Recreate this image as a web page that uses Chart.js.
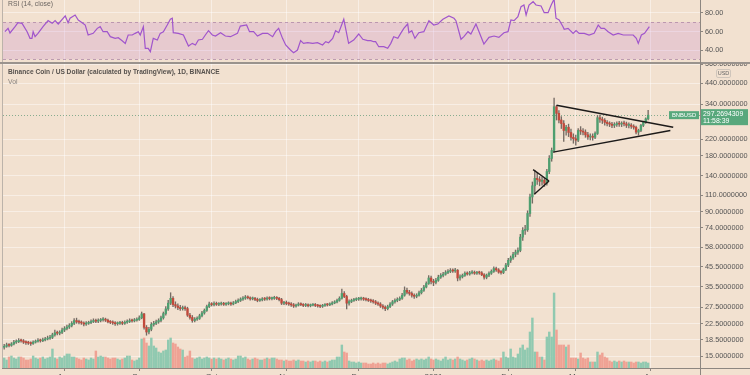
<!DOCTYPE html>
<html>
<head>
<meta charset="utf-8">
<script src="https://cdn.jsdelivr.net/npm/chart.js@4.4.1/dist/chart.umd.min.js"></script>
<style>
  html, body { margin: 0; padding: 0; }
  body {
    width: 750px; height: 375px; overflow: hidden; position: relative;
    background: #f2e1d0; font-family: "Liberation Sans", "DejaVu Sans", sans-serif;
  }
  canvas { position: absolute; left: 0; }
  #rsiChart { top: 0; }
  #priceChart { top: 64px; }
  .line { position: absolute; background: #8d8680; }
  .title { position: absolute; left: 8px; white-space: nowrap; line-height: 1; }
  #usd {
    position: absolute; left: 716px; top: 69px; width: 13px; height: 7px;
    border: 1px solid #cfc5bb; border-radius: 2px; font-size: 5.5px; color: #666;
    text-align: center; line-height: 7px;
  }
</style>
</head>
<body>
<canvas id="rsiChart" width="750" height="63"></canvas>
<canvas id="priceChart" width="750" height="320"></canvas>
<div class="line" style="left:2px; top:0; width:1px; height:368px; background:#bcb3aa;"></div>
<div class="line" style="left:0; top:62px; width:750px; height:2px; background:#9a938d;"></div>
<div class="line" style="left:2px; top:368px; width:748px; height:1px;"></div>
<div class="line" style="left:700px; top:0; width:1px; height:375px;"></div>
<div class="title" style="top:1px; font-size:6.8px; color:#6b6561;">RSI (14, close)</div>
<div class="title" style="top:69px; font-size:6.6px; color:#57524e; font-weight:bold;">Binance Coin / US Dollar (calculated by TradingView), 1D, BINANCE</div>
<div class="title" style="top:79px; font-size:6.8px; color:#8a847f;">Vol</div>
<div id="usd">USD</div>
<script>
// daily candles, 2020-07-07 .. 2021-03-31 (day index 0..267)
const opens = [
  16.8, 17.0, 17.3, 17.2, 17.5, 17.9, 18.0, 18.3, 18.2, 17.9,
  17.8, 17.7, 17.6, 17.9, 18.1, 18.3, 18.2, 18.4, 18.6, 18.8,
  19.0, 19.6, 20.1, 20.0, 20.2, 20.8, 21.2, 21.6, 22.0, 22.6,
  23.4, 23.0, 22.9, 22.7, 22.4, 22.6, 22.8, 23.1, 23.4, 23.2,
  23.4, 23.6, 23.7, 23.5, 23.0, 22.9, 22.7, 22.5, 22.6, 22.8,
  22.6, 22.9, 23.1, 23.4, 23.3, 23.5, 23.7, 24.2, 25.4, 21.5,
  20.3, 21.0, 22.3, 22.6, 23.0, 23.4, 24.2, 25.5, 27.0, 29.0,
  30.8, 28.5, 28.0, 27.5, 27.1, 27.3, 27.1, 25.0, 24.3, 23.4,
  23.8, 24.0, 24.8, 25.7, 26.5, 27.8, 28.7, 28.5, 28.9, 28.6,
  28.7, 28.9, 28.6, 28.8, 29.0, 28.7, 29.1, 29.6, 30.0, 30.5,
  30.9, 31.2, 31.0, 30.6, 30.8, 30.4, 30.0, 30.2, 30.6, 30.5,
  30.9, 30.7, 30.8, 31.1, 30.8, 30.3, 29.0, 29.2, 28.9, 28.7,
  28.4, 28.0, 28.3, 28.7, 28.5, 28.2, 28.4, 28.1, 28.3, 28.5,
  28.2, 28.0, 27.9, 28.2, 28.5, 28.4, 28.7, 29.1, 29.4, 30.0,
  30.8, 32.7, 31.5, 29.0, 29.6, 30.0, 30.3, 30.5, 30.6, 30.8,
  30.5, 30.3, 30.0, 29.8, 29.5, 29.0, 28.7, 28.0, 27.6, 27.1,
  27.8, 28.7, 29.5, 30.0, 30.4, 30.8, 32.0, 34.0, 33.2, 32.7,
  32.0, 31.6, 32.0, 33.0, 34.0, 35.4, 37.0, 39.6, 38.0, 37.5,
  38.5, 40.0, 40.9, 41.5, 42.4, 43.0, 43.5, 43.2, 43.6, 39.6,
  40.2, 40.9, 42.0, 41.6, 42.2, 42.5, 42.0, 42.3, 42.2, 41.2,
  40.0, 41.0, 42.0, 43.0, 44.5, 43.8, 42.6, 42.4, 44.0, 46.5,
  49.3, 50.8, 53.1, 54.5, 55.7, 65.7, 71.4, 72.0, 88.0, 108,
  124, 136, 134, 131, 133, 128, 148, 174, 192, 330,
  304, 280, 268, 246, 256, 240, 226, 222, 218, 246,
  244, 241, 233, 227, 229, 226, 237, 288, 283, 279,
  272, 268, 266, 262, 265, 268, 266, 268, 267, 262,
  263, 259, 256, 241, 246, 262, 272, 284
];
const highs = [
  17.4, 17.7, 17.6, 17.8, 18.3, 18.4, 18.7, 18.6, 18.5, 18.2,
  18.1, 18.0, 18.2, 18.4, 18.7, 18.6, 18.8, 19.0, 19.3, 19.5,
  20.0, 20.8, 20.5, 20.6, 21.3, 21.7, 22.1, 22.5, 23.1, 24.0,
  24.1, 23.5, 23.3, 23.0, 23.1, 23.2, 23.6, 23.9, 23.8, 23.9,
  24.0, 24.3, 24.1, 23.8, 23.4, 23.3, 23.1, 23.0, 23.2, 23.2,
  23.3, 23.6, 23.9, 23.8, 24.0, 24.2, 24.8, 26.0, 25.6, 22.0,
  21.5, 22.8, 23.2, 23.5, 23.9, 24.7, 26.0, 27.8, 30.0, 33.0,
  31.5, 29.5, 28.8, 28.2, 28.0, 28.0, 27.6, 25.6, 24.9, 24.3,
  24.5, 25.3, 26.2, 27.0, 28.3, 29.4, 29.2, 29.5, 29.4, 29.2,
  29.4, 29.3, 29.2, 29.5, 29.4, 29.6, 30.1, 30.6, 31.0, 31.5,
  31.9, 31.8, 31.4, 31.3, 31.2, 30.9, 30.7, 31.1, 31.1, 31.4,
  31.4, 31.3, 31.6, 31.5, 31.2, 30.8, 29.7, 29.8, 29.4, 29.2,
  28.9, 28.7, 29.2, 29.1, 28.9, 28.9, 28.8, 28.7, 28.9, 28.9,
  28.6, 28.4, 28.6, 28.9, 28.9, 29.1, 29.6, 29.9, 30.5, 31.4,
  34.5, 33.5, 32.0, 30.2, 30.5, 30.8, 31.0, 31.2, 31.3, 31.2,
  31.0, 30.8, 30.5, 30.3, 30.0, 29.5, 29.2, 28.5, 28.1, 28.3,
  29.2, 30.0, 30.6, 31.0, 31.4, 32.8, 35.5, 35.0, 34.0, 33.4,
  32.6, 32.6, 33.7, 34.8, 36.2, 37.8, 40.8, 40.5, 39.0, 39.4,
  41.0, 41.8, 42.5, 43.4, 44.0, 44.5, 44.3, 44.6, 44.0, 41.2,
  41.6, 42.8, 42.7, 43.0, 43.4, 43.2, 43.0, 43.1, 42.9, 41.8,
  41.6, 42.7, 43.8, 45.5, 45.4, 44.5, 43.4, 44.8, 47.5, 50.5,
  52.0, 54.5, 56.0, 57.5, 68.0, 74.0, 76.0, 91.0, 112, 130,
  150, 145, 139, 138, 136, 152, 180, 198, 367, 335,
  315, 292, 278, 262, 266, 250, 236, 232, 252, 258,
  252, 248, 240, 236, 236, 242, 296, 298, 290, 285,
  278, 274, 272, 271, 274, 275, 274, 276, 273, 270,
  268, 264, 260, 250, 265, 276, 288, 316
];
const lows = [
  16.4, 16.8, 16.9, 17.0, 17.3, 17.6, 17.8, 17.9, 17.6, 17.4,
  17.4, 17.2, 17.4, 17.7, 17.9, 17.9, 18.0, 18.2, 18.4, 18.5,
  18.7, 19.3, 19.6, 19.6, 19.9, 20.4, 20.8, 21.2, 21.6, 22.2,
  22.6, 22.4, 22.3, 21.9, 22.0, 22.3, 22.5, 22.8, 22.8, 22.8,
  23.0, 23.2, 23.1, 22.7, 22.5, 22.3, 22.0, 22.1, 22.3, 22.2,
  22.3, 22.6, 22.8, 22.9, 23.0, 23.2, 23.4, 23.9, 21.0, 19.5,
  19.8, 20.6, 21.8, 22.2, 22.6, 23.0, 23.8, 25.0, 26.5, 28.5,
  27.8, 27.3, 26.8, 26.5, 26.6, 26.5, 24.6, 23.8, 22.9, 23.0,
  23.4, 23.7, 24.5, 25.3, 26.2, 27.4, 28.0, 28.0, 28.2, 28.1,
  28.3, 28.2, 28.2, 28.4, 28.2, 28.4, 28.8, 29.2, 29.6, 30.0,
  30.4, 30.6, 30.1, 30.2, 29.9, 29.5, 29.6, 29.8, 30.0, 30.1,
  30.2, 30.2, 30.4, 30.3, 29.8, 28.5, 28.5, 28.4, 28.2, 27.9,
  27.5, 27.6, 28.0, 28.1, 27.8, 27.8, 27.7, 27.7, 28.0, 27.8,
  27.6, 27.4, 27.5, 27.9, 28.0, 28.1, 28.4, 28.8, 29.1, 29.7,
  30.5, 31.0, 27.0, 28.3, 29.2, 29.6, 29.9, 30.0, 30.1, 30.0,
  29.8, 29.6, 29.3, 29.0, 28.5, 28.2, 27.5, 27.0, 26.4, 26.7,
  27.4, 28.2, 29.0, 29.5, 29.9, 30.4, 31.6, 32.5, 32.0, 31.2,
  30.8, 31.0, 31.6, 32.5, 33.5, 35.0, 36.6, 36.8, 36.0, 36.8,
  38.0, 39.4, 40.2, 41.0, 41.8, 42.3, 42.4, 42.5, 38.2, 38.6,
  39.6, 40.4, 41.0, 41.0, 41.6, 41.4, 41.4, 41.5, 40.8, 39.0,
  39.2, 40.3, 41.4, 42.5, 43.0, 42.0, 41.5, 41.8, 43.4, 45.6,
  48.0, 49.8, 51.5, 53.0, 54.8, 63.0, 68.0, 70.5, 85.0, 100,
  112, 126, 124, 125, 123, 125, 144, 168, 188, 280,
  270, 252, 215, 232, 228, 218, 210, 205, 214, 234,
  233, 226, 220, 219, 218, 222, 234, 272, 268, 263,
  260, 258, 255, 255, 259, 259, 258, 260, 255, 254,
  252, 250, 236, 232, 242, 258, 268, 280
];
const closes = [
  17.0, 17.3, 17.2, 17.5, 17.9, 18.0, 18.3, 18.2, 17.9, 17.8,
  17.7, 17.6, 17.9, 18.1, 18.3, 18.2, 18.4, 18.6, 18.8, 19.0,
  19.6, 20.1, 20.0, 20.2, 20.8, 21.2, 21.6, 22.0, 22.6, 23.4,
  23.0, 22.9, 22.7, 22.4, 22.6, 22.8, 23.1, 23.4, 23.2, 23.4,
  23.6, 23.7, 23.5, 23.0, 22.9, 22.7, 22.5, 22.6, 22.8, 22.6,
  22.9, 23.1, 23.4, 23.3, 23.5, 23.7, 24.2, 25.4, 21.5, 20.3,
  21.0, 22.3, 22.6, 23.0, 23.4, 24.2, 25.5, 27.0, 29.0, 30.8,
  28.5, 28.0, 27.5, 27.1, 27.3, 27.1, 25.0, 24.3, 23.4, 23.8,
  24.0, 24.8, 25.7, 26.5, 27.8, 28.7, 28.5, 28.9, 28.6, 28.7,
  28.9, 28.6, 28.8, 29.0, 28.7, 29.1, 29.6, 30.0, 30.5, 30.9,
  31.2, 31.0, 30.6, 30.8, 30.4, 30.0, 30.2, 30.6, 30.5, 30.9,
  30.7, 30.8, 31.1, 30.8, 30.3, 29.0, 29.2, 28.9, 28.7, 28.4,
  28.0, 28.3, 28.7, 28.5, 28.2, 28.4, 28.1, 28.3, 28.5, 28.2,
  28.0, 27.9, 28.2, 28.5, 28.4, 28.7, 29.1, 29.4, 30.0, 30.8,
  32.7, 31.5, 29.0, 29.6, 30.0, 30.3, 30.5, 30.6, 30.8, 30.5,
  30.3, 30.0, 29.8, 29.5, 29.0, 28.7, 28.0, 27.6, 27.1, 27.8,
  28.7, 29.5, 30.0, 30.4, 30.8, 32.0, 34.0, 33.2, 32.7, 32.0,
  31.6, 32.0, 33.0, 34.0, 35.4, 37.0, 39.6, 38.0, 37.5, 38.5,
  40.0, 40.9, 41.5, 42.4, 43.0, 43.5, 43.2, 43.6, 39.6, 40.2,
  40.9, 42.0, 41.6, 42.2, 42.5, 42.0, 42.3, 42.2, 41.2, 40.0,
  41.0, 42.0, 43.0, 44.5, 43.8, 42.6, 42.4, 44.0, 46.5, 49.3,
  50.8, 53.1, 54.5, 55.7, 65.7, 71.4, 72.0, 88.0, 108, 124,
  136, 134, 131, 133, 128, 148, 174, 192, 330, 304,
  280, 268, 246, 256, 240, 226, 222, 218, 246, 244,
  241, 233, 227, 229, 226, 237, 288, 283, 279, 272,
  268, 266, 262, 265, 268, 266, 268, 267, 262, 263,
  259, 256, 241, 246, 262, 272, 284, 297.2694309
];
const volumes = [
  10, 8, 11, 12, 10, 9, 11, 11, 10, 8,
  8, 9, 12, 10, 9, 10, 11, 9, 10, 11,
  19, 10, 9, 11, 10, 12, 14, 14, 11, 11,
  10, 9, 8, 10, 9, 8, 10, 9, 17, 11,
  12, 11, 11, 10, 9, 10, 10, 9, 8, 9,
  10, 12, 12, 8, 7, 8, 10, 29, 30, 25,
  22, 30, 22, 20, 16, 15, 17, 18, 28, 30,
  25, 24, 21, 19, 18, 11, 12, 17, 10, 9,
  10, 11, 9, 10, 11, 10, 9, 10, 9, 10,
  9, 8, 9, 10, 9, 8, 9, 12, 12, 10,
  11, 9, 8, 9, 10, 9, 8, 8, 9, 10,
  9, 10, 10, 9, 8, 8, 7, 8, 7, 7,
  8, 7, 8, 7, 7, 6, 7, 6, 7, 7,
  6, 7, 6, 7, 6, 7, 8, 8, 11, 11,
  23, 16, 15, 7, 6, 6, 5, 6, 5, 5,
  5, 4, 4, 5, 4, 5, 4, 5, 5, 4,
  5, 6, 7, 6, 9, 10, 10, 8, 9, 7,
  8, 9, 8, 9, 8, 9, 11, 9, 8, 9,
  8, 7, 9, 11, 8, 9, 8, 9, 11, 9,
  8, 7, 8, 9, 10, 9, 8, 7, 8, 7,
  8, 7, 8, 9, 8, 7, 10, 16, 11, 10,
  19, 11, 10, 14, 20, 23, 18, 20, 36, 50,
  16, 16, 11, 11, 8, 31, 36, 31, 75, 38,
  23, 23, 23, 21, 23, 10, 10, 10, 9, 15,
  10, 9, 10, 6, 6, 6, 16, 13, 15, 11,
  10, 7, 6, 7, 6, 7, 6, 7, 6, 6,
  6, 5, 6, 6, 5, 6, 6, 5
];

// RSI (14, close): day index and value
const rsiDays = [
  0.3, 1.6, 2.4, 4.5, 5.7, 7.4, 9.5, 10.7, 11.5, 12,
  12.8, 14, 16.1, 18.2, 19.9, 21.1, 22.4, 25.3, 26.5, 27.3,
  29.4, 30.7, 32.3, 33.6, 34.8, 36.9, 38.6, 39.8, 41, 42.7,
  44, 46, 47.3, 48.9, 50.2, 51.4, 53.1, 54.3, 55.6, 56.4,
  57.7, 58.5, 59.7, 60.6, 61.8, 63.5, 64.7, 66, 67.6, 68.9,
  69.7, 70.1, 72.2, 74.3, 76.4, 78, 79.3, 80.5, 82.2, 83.4,
  84.7, 86.3, 87.6, 89.7, 91.7, 93.8, 96.7, 97.9, 100.5, 101.7,
  103.4, 105, 107.1, 109.2, 111.3, 112.5, 113.8, 115.4, 116.7, 118.7,
  120, 121.6, 122.9, 124.1, 125.8, 127.9, 129.9, 132, 133.3, 134.5,
  136.2, 137.4, 138.7, 140.8, 142.8, 144.9, 147, 148.7, 150.7, 152,
  153.2, 154, 155.3, 157.4, 159, 160.3, 161.5, 163.2, 164.4, 165.7,
  167.3, 167.8, 169, 170.3, 171.9, 174, 176.1, 178.1, 179.8, 181.9,
  184.4, 186.5, 187.3, 189.4, 190.6, 192.3, 193.5, 195.6, 197.7, 198.9,
  201, 203.1, 205.1, 207.2, 208.9, 210.1, 211.4, 213, 214.3, 215.5,
  216.4, 217.6, 219.3, 220.5, 222.6, 223.9, 225.5, 226.8, 228, 228.8,
  230.1, 231.7, 232.2, 233.8, 235.9, 237.1, 238.4, 240.5, 242.5, 244.6,
  246.3, 247.5, 248.8, 250.4, 252.5, 254.6, 256.7, 258.7, 260.8, 262.1,
  262.9, 264.2, 265.5, 267.5
];
const rsiValues = [
  59.8, 63.4, 58.4, 65.2, 69.5, 68.8, 59.8, 52.6, 52.6, 59.8,
  54.4, 58, 65.2, 71.7, 68.8, 71.7, 68.1, 76.8, 69.5, 74.3,
  77.8, 72.4, 69.5, 67, 56.2, 58, 63.4, 65.2, 59.8, 59.8,
  54.4, 52.6, 53.3, 50.1, 47.2, 56.2, 56.2, 58, 59.8, 56.2,
  65.2, 41.8, 41.8, 38.2, 52.6, 50.8, 58, 59.8, 67, 73.2,
  74.3, 58.7, 58, 56.2, 44.3, 47.2, 45.4, 50.8, 51.6, 56.2,
  60.9, 56.2, 55.1, 58.7, 55.1, 54.4, 58, 65.9, 67, 59.8,
  59.8, 55.1, 58, 58, 54.4, 59.8, 63.4, 52.6, 45.4, 40,
  37.1, 40, 50.1, 47.2, 47.9, 47.2, 47.9, 45.4, 49, 47.9,
  52.6, 60.9, 58.7, 73.2, 47.2, 50.8, 57.3, 51.6, 50.1, 50.1,
  49, 49, 43.6, 43.6, 41.8, 47.2, 54.4, 52.6, 58, 63.4,
  68.1, 58.7, 60.9, 52.6, 58.7, 59.8, 71.7, 67, 68.1, 73.2,
  76.8, 74.3, 71.7, 51.6, 54.4, 59.8, 57.3, 68.1, 54.4, 46.5,
  53.7, 55.1, 53.7, 58.7, 59.8, 72.4, 71.7, 76, 86.8, 88.6,
  77.8, 88.6, 92.2, 88.6, 87.6, 80.3, 80.3, 88.6, 95, 74.3,
  72.4, 65.2, 62.4, 63.4, 58, 60.9, 58, 58, 56.2, 58,
  67, 63.4, 63.4, 59.8, 56.2, 58, 56.2, 56.2, 56.2, 52.6,
  47.2, 56.2, 58, 65.2
];
const rsiBand = [70, 30];

// axis ticks
const monthTickDays = [25, 56, 86, 117, 147, 178, 209, 237, 268];
const monthTickLabels = ["Aug", "Sep", "Oct", "Nov", "Dec", "2021", "Feb", "Mar", "Apr"];
const priceTicks = [15, 18.5, 22.5, 27.5, 35.5, 45.5, 58, 74, 90, 110, 140, 180, 220, 340, 440, 560];
const rsiTicks = [80, 60, 40];

// drawn trend lines: [startDay, startPrice, endDay, endPrice]
const trendLines = [
  [229, 336, 277.4, 256],
  [227.6, 188, 276.2, 246],
  [219.3, 151.5, 225.9, 131.5],
  [219.8, 111.6, 225.9, 131.5]
];

const symbolName = "BNBUSD";
const countdown = "11:58:39";
const lastPrice = closes[closes.length - 1];

const FONT = '"Liberation Sans", "DejaVu Sans", sans-serif';
const GRID = "rgba(255, 255, 255, 0.45)";
const TICK = "#8d8680";
const UP = "#4e9f70";
const DOWN = "#c2493b";
const VOL_UP = "#90c9b0";
const VOL_DOWN = "#efa294";
const LABEL_GREEN = "#58a87c";

Chart.defaults.font.family = FONT;
Chart.defaults.font.size = 7.3;
Chart.defaults.color = "#555";

const dayAxis = (showLabels) => ({
  type: "linear",
  min: -0.5,
  max: 288.5,
  bounds: "data",
  offset: false,
  afterBuildTicks: (s) => { s.ticks = monthTickDays.map((v) => ({ value: v })); },
  afterFit: (s) => { s.height = showLabels ? 16 : 0; s.paddingLeft = 0; s.paddingRight = 0; },
  ticks: {
    display: showLabels, autoSkip: false, maxRotation: 0, padding: 1,
    font: { size: 8 }, callback: (v, i) => monthTickLabels[i]
  },
  grid: { color: GRID, tickColor: TICK, tickLength: 3, drawTicks: showLabels, offset: false },
  border: { display: false }
});

const rightAxis = (ticksList, fmt) => ({
  position: "right",
  bounds: "data",
  afterBuildTicks: (s) => { s.ticks = ticksList.map((v) => ({ value: v })); },
  afterFit: (s) => { s.width = 50; s.paddingTop = 0; s.paddingBottom = 0; },
  ticks: { padding: 2, callback: fmt },
  grid: { color: GRID, tickColor: TICK, tickLength: 3 },
  border: { display: false }
});

// RSI pane
const rsiBandPlugin = {
  id: "rsiBand",
  beforeDatasetsDraw(chart) {
    const { ctx, chartArea: a, scales: { y } } = chart;
    const top = y.getPixelForValue(rsiBand[0]);
    const bottom = y.getPixelForValue(rsiBand[1]);
    ctx.save();
    ctx.fillStyle = "rgba(180, 90, 200, 0.17)";
    ctx.fillRect(a.left, top, a.right - a.left, bottom - top);
    ctx.setLineDash([3, 3]);
    ctx.strokeStyle = "rgba(150, 105, 150, 0.55)";
    ctx.lineWidth = 1;
    [top, bottom].forEach((py) => {
      ctx.beginPath();
      ctx.moveTo(a.left, Math.round(py) + 0.5);
      ctx.lineTo(a.right, Math.round(py) + 0.5);
      ctx.stroke();
    });
    ctx.restore();
  }
};

new Chart(document.getElementById("rsiChart"), {
  type: "line",
  data: {
    datasets: [{
      data: rsiDays.map((d, i) => ({ x: d, y: rsiValues[i] })),
      borderColor: "#a055cc",
      borderWidth: 1.2,
      pointRadius: 0,
      tension: 0
    }]
  },
  options: {
    responsive: false,
    animation: false,
    events: [],
    layout: { padding: { left: 3, top: 0, bottom: 0, right: 0 } },
    plugins: { legend: { display: false }, tooltip: { enabled: false } },
    scales: {
      x: dayAxis(false),
      y: Object.assign(rightAxis(rsiTicks, (v) => Number(v).toFixed(2)), { min: 26, max: 94 })
    }
  },
  plugins: [rsiBandPlugin]
});

// price pane
const trendPlugin = {
  id: "trendLines",
  afterDatasetsDraw(chart) {
    const { ctx, scales: { x, y } } = chart;
    ctx.save();
    ctx.strokeStyle = "#1c1a19";
    ctx.lineWidth = 1.4;
    trendLines.forEach(([d1, p1, d2, p2]) => {
      ctx.beginPath();
      ctx.moveTo(x.getPixelForValue(d1), y.getPixelForValue(p1));
      ctx.lineTo(x.getPixelForValue(d2), y.getPixelForValue(p2));
      ctx.stroke();
    });
    ctx.restore();
  }
};

const lastPricePlugin = {
  id: "lastPrice",
  beforeDatasetsDraw(chart) {
    const { ctx, chartArea: a, scales: { y } } = chart;
    const py = Math.round(y.getPixelForValue(lastPrice)) + 0.5;
    ctx.save();
    ctx.setLineDash([1, 2]);
    ctx.strokeStyle = "rgba(90, 150, 115, 0.7)";
    ctx.lineWidth = 1;
    ctx.beginPath();
    ctx.moveTo(a.left, py);
    ctx.lineTo(a.right, py);
    ctx.stroke();
    ctx.restore();
  },
  afterDraw(chart) {
    const { ctx, chartArea: a, scales: { y } } = chart;
    const py = y.getPixelForValue(lastPrice);
    ctx.save();
    ctx.fillStyle = LABEL_GREEN;
    ctx.fillRect(a.right + 1, py - 6, 47, 16);
    ctx.fillRect(a.right - 31, py - 4, 30, 8);
    ctx.fillStyle = "#fff";
    ctx.textBaseline = "middle";
    ctx.textAlign = "left";
    ctx.font = "6.9px " + FONT;
    ctx.fillText(lastPrice.toFixed(7), a.right + 3, py - 1.5);
    ctx.fillText(countdown, a.right + 3, py + 5.8);
    ctx.textAlign = "center";
    ctx.font = "5.8px " + FONT;
    ctx.fillText(symbolName, a.right - 16, py + 0.3);
    ctx.restore();
  }
};

const isUp = closes.map((c, i) => c >= opens[i]);

new Chart(document.getElementById("priceChart"), {
  type: "bar",
  data: {
    datasets: [
      {
        label: "body",
        data: closes.map((c, i) => ({ x: i, y: [opens[i], c] })),
        backgroundColor: isUp.map((u) => (u ? UP : DOWN)),
        barThickness: 1.7,
        minBarLength: 1,
        grouped: false,
        yAxisID: "y",
        order: 1
      },
      {
        label: "wick",
        data: closes.map((c, i) => ({ x: i, y: [lows[i], highs[i]] })),
        backgroundColor: "#756b64",
        barThickness: 0.7,
        grouped: false,
        yAxisID: "y",
        order: 2
      },
      {
        label: "Vol",
        data: volumes.map((v, i) => ({ x: i, y: v })),
        backgroundColor: isUp.map((u) => (u ? VOL_UP : VOL_DOWN)),
        barThickness: 1.8,
        grouped: false,
        yAxisID: "yv",
        order: 3
      }
    ]
  },
  options: {
    responsive: false,
    animation: false,
    events: [],
    layout: { padding: { left: 3, top: 0, bottom: 0, right: 0 } },
    plugins: { legend: { display: false }, tooltip: { enabled: false } },
    scales: {
      x: dayAxis(true),
      y: Object.assign(rightAxis(priceTicks, (v) => Number(v).toFixed(7)), {
        type: "logarithmic", min: 13, max: 560
      }),
      yv: { type: "linear", display: false, min: 0, max: 304 }
    }
  },
  plugins: [lastPricePlugin, trendPlugin]
});
</script>
</body>
</html>
